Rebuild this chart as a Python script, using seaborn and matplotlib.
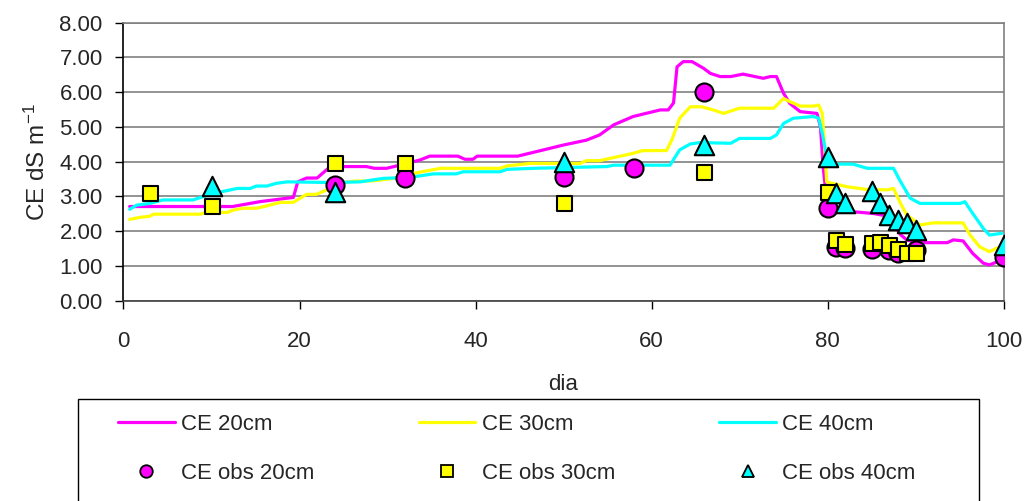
import numpy as np
import pandas as pd
import matplotlib
matplotlib.use("Agg")
import matplotlib.pyplot as plt
import matplotlib.patches as mpatches
from matplotlib.lines import Line2D
import seaborn as sns

# simulated CE (dS/m) at three depths
dia_20 = [0.7, 12.4, 15.5, 18.6, 19.3, 19.8, 20.8, 22, 23.5, 27.6, 28.5, 29.9, 31.4, 33.7, 34.8,
          38, 38.8, 39.7, 40.2, 44.8, 50, 52.6, 54.1, 55.7, 57.9, 61, 61.9, 62.5, 62.9, 63.6,
          64.6, 65.9, 66.7, 67.8, 69, 70.4, 72.7, 73.5, 74.2, 75, 75.7, 76.9, 78.8, 79.2, 79.5,
          79.9, 80.5, 82.9, 85.2, 86.5, 87.5, 88.3, 89, 90.2, 93.6, 94.3, 95.4, 96.5, 97.7,
          98.4, 99.3, 100]
ce_20 = [2.71, 2.71, 2.85, 2.95, 2.97, 3.42, 3.53, 3.53, 3.86, 3.86, 3.81, 3.81, 3.9, 4.05, 4.16,
         4.16, 4.07, 4.07, 4.16, 4.16, 4.48, 4.62, 4.77, 5.06, 5.3, 5.49, 5.49, 5.69, 6.73, 6.88,
         6.88, 6.69, 6.54, 6.45, 6.45, 6.52, 6.4, 6.45, 6.45, 5.97, 5.68, 5.44, 5.39, 5.0, 3.86,
         2.9, 2.7, 2.56, 2.51, 2.45, 2.2, 1.9, 1.75, 1.67, 1.67, 1.75, 1.72, 1.36, 1.08,
         1.03, 1.12, 1.2]

dia_30 = [0.7, 1.9, 3, 3.4, 8.7, 9.5, 11.8, 12.5, 13.6, 15.1, 16.3, 17.8, 19.3, 20.8, 21.9, 23.5,
          24.6, 26.1, 28.4, 30.7, 32.6, 33.7, 36, 42.8, 43.6, 46.2, 51.9, 52.6, 54.1, 57.9, 59,
          61.7, 62.3, 63.2, 64.4, 65.7, 67, 68.2, 70, 73.9, 75, 75.7, 76.9, 78.4, 79, 79.4, 79.7,
          79.9, 80.5, 82.2, 84.5, 86.8, 87.5, 88.2, 89, 90.5, 92, 95.4, 96.2, 97.3, 98.4, 99.2, 100]
ce_30 = [2.34, 2.4, 2.43, 2.49, 2.49, 2.54, 2.54, 2.61, 2.66, 2.66, 2.73, 2.83, 2.83, 3.06, 3.06,
         3.23, 3.38, 3.44, 3.45, 3.52, 3.64, 3.7, 3.81, 3.81, 3.88, 3.95, 3.95, 4.03, 4.03, 4.24,
         4.32, 4.32, 4.62, 5.25, 5.58, 5.58, 5.49, 5.39, 5.54, 5.54, 5.82, 5.73, 5.6, 5.6, 5.63,
         5.39, 4.34, 3.42, 3.38, 3.28, 3.2, 3.19, 3.23, 2.85, 2.47, 2.18, 2.24, 2.24, 1.89, 1.55,
         1.41, 1.51, 1.55]

dia_40 = [0.7, 1.5, 3, 4.5, 7.9, 9, 10.2, 11.8, 12.9, 14.4, 15.1, 16.3, 17.4, 18.6, 23.8, 26.9,
          29.5, 32.6, 35.2, 37.8, 38.6, 42.8, 43.6, 46.6, 54.9, 55.7, 62.1, 63.2, 64.4, 65.5, 69,
          70, 73.5, 74.2, 75, 76.1, 78.4, 79, 79.4, 79.9, 80.6, 82.9, 84.5, 87.5, 88.2, 89.4,
          90.5, 95.1, 95.6, 96.5, 97.7, 98.4, 99.8]
ce_40 = [2.63, 2.75, 2.8, 2.9, 2.9, 2.99, 3.09, 3.17, 3.23, 3.23, 3.3, 3.3, 3.38, 3.42, 3.4, 3.42,
         3.52, 3.55, 3.65, 3.65, 3.71, 3.71, 3.78, 3.81, 3.86, 3.9, 3.9, 4.34, 4.51, 4.55, 4.53,
         4.67, 4.67, 4.77, 5.1, 5.25, 5.3, 5.25, 4.82, 4.14, 3.93, 3.93, 3.81, 3.81, 3.47, 2.95,
         2.8, 2.8, 2.85, 2.51, 2.08, 1.89, 1.94]

# observed CE
obs_dia_20 = [24, 32, 50, 58, 66, 80, 81, 82, 85, 87, 88, 90, 100]
obs_ce_20 = [3.33, 3.52, 3.57, 3.83, 6.01, 2.66, 1.55, 1.51, 1.5, 1.46, 1.38, 1.45, 1.27]

obs_dia_30 = [3, 10, 24, 32, 50, 66, 80, 81, 82, 85, 86, 87, 88, 89, 90]
obs_ce_30 = [3.09, 2.72, 3.95, 3.97, 2.8, 3.71, 3.14, 1.75, 1.62, 1.65, 1.7, 1.6, 1.5, 1.38, 1.38]

obs_dia_40 = [10, 24, 50, 66, 80, 81, 82, 85, 86, 87, 88, 89, 90, 100]
obs_ce_40 = [3.29, 3.12, 3.98, 4.48, 4.14, 3.1, 2.8, 3.16, 2.8, 2.47, 2.31, 2.24, 2.04, 1.6]

MAGENTA = "#FF00FF"
YELLOW = "#FFFF00"
CYAN = "#00FFFF"

sns.set_theme(style="white")
plt.rcParams["font.family"] = ["Liberation Sans", "DejaVu Sans"]
plt.rcParams["mathtext.fontset"] = "custom"
plt.rcParams["mathtext.rm"] = "Liberation Sans"
plt.rcParams["mathtext.default"] = "regular"

fig = plt.figure(figsize=(10.3, 5.01), dpi=100)
ax = fig.add_axes([0.1199, 0.3998, 0.8544, 0.5549])

for xs, ys, col in [(dia_20, ce_20, MAGENTA), (dia_30, ce_30, YELLOW), (dia_40, ce_40, CYAN)]:
    sns.lineplot(x=xs, y=ys, color=col, linewidth=2.3, estimator=None, sort=False, ax=ax, zorder=3)

sns.scatterplot(x=obs_dia_20, y=obs_ce_20, marker="o", s=13 ** 2, color=MAGENTA,
                edgecolor="black", linewidth=1.5, ax=ax, zorder=4)
sns.scatterplot(x=obs_dia_30, y=obs_ce_30, marker="s", s=10.8 ** 2, color=YELLOW,
                edgecolor="black", linewidth=1.5, ax=ax, zorder=5)
sns.scatterplot(x=obs_dia_40, y=obs_ce_40, marker="^", s=14 ** 2, color=CYAN,
                edgecolor="black", linewidth=1.5, ax=ax, zorder=6)

ax.set_xlim(0, 100)
ax.set_ylim(0, 8)
ax.set_xticks(np.arange(0, 101, 20))
ax.set_yticks(np.arange(0, 8.01, 1))
ax.yaxis.set_major_formatter(plt.FuncFormatter(lambda v, _: f"{v:.2f}"))
ax.yaxis.grid(True, color="#808080", linewidth=1.2)
ax.xaxis.grid(False)
ax.set_axisbelow(True)

for side in ["top", "right"]:
    ax.spines[side].set_color("#808080")
    ax.spines[side].set_linewidth(1.2)
ax.spines["left"].set_color("black")
ax.spines["bottom"].set_color("#404040")
ax.spines["left"].set_linewidth(1.2)
ax.spines["bottom"].set_linewidth(1.2)

ax.tick_params(axis="x", direction="out", length=6, width=1, color="black",
               labelsize=16, pad=16, bottom=True)
ax.tick_params(axis="y", direction="out", length=6, width=1, color="black",
               labelsize=16, pad=9, left=True)

ax.set_xlabel("dia", fontsize=16, labelpad=16)
ax.set_ylabel("CE dS m$^{-1}$", fontsize=17.5, labelpad=7)

handles = [
    Line2D([], [], color=MAGENTA, lw=2.3),
    Line2D([], [], marker="o", ls="", ms=9, mfc=MAGENTA, mec="black", mew=1.3),
    Line2D([], [], color=YELLOW, lw=2.3),
    Line2D([], [], marker="s", ls="", ms=8, mfc=YELLOW, mec="black", mew=1.3),
    Line2D([], [], color=CYAN, lw=2.3),
    Line2D([], [], marker="^", ls="", ms=9, mfc=CYAN, mec="black", mew=1.3),
]
labels = ["CE 20cm", "CE obs 20cm", "CE 30cm", "CE obs 30cm", "CE 40cm", "CE obs 40cm"]
fig.legend(handles, labels, ncol=3, loc="upper left",
           bbox_to_anchor=(118 / 1030, 1 - 414 / 501), frameon=False,
           fontsize=16, handlelength=2.55, handletextpad=0.28,
           columnspacing=4.7, labelspacing=1.25, borderpad=0, borderaxespad=0)

frame = mpatches.Rectangle((78 / 1030, -0.1), (979 - 78) / 1030, 0.1 + 1 - 399 / 501,
                           transform=fig.transFigure, fill=False, edgecolor="black",
                           linewidth=1, clip_on=False)
fig.patches.append(frame)

plt.savefig("out.png", dpi=100)
plt.close()
